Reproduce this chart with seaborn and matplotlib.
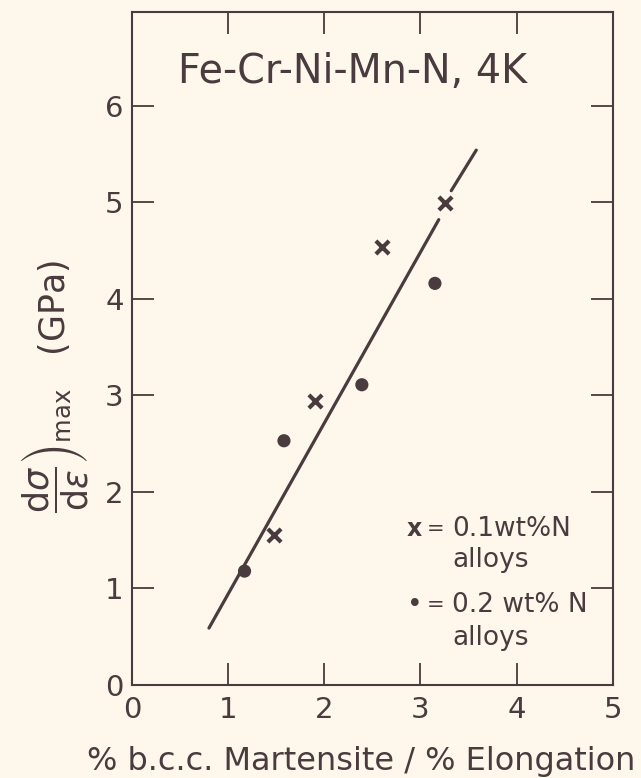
import matplotlib
matplotlib.use("Agg")
import matplotlib.pyplot as plt
import seaborn as sns
import pandas as pd

x_01N = [1.48, 1.90, 2.60, 3.26]
y_01N = [1.55, 2.94, 4.54, 4.99]
x_02N = [1.17, 1.58, 2.39, 3.15]
y_02N = [1.18, 2.53, 3.11, 4.16]

# fitted line, drawn in two pieces (gap around the last x point)
fit_x = [0.80, 3.19, 3.32, 3.58]
fit_y = [0.59, 4.82, 5.12, 5.54]
fit_seg = [0, 0, 1, 1]

x_ticks = [0, 1, 2, 3, 4, 5]
y_ticks = [0, 1, 2, 3, 4, 5, 6]

INK = "#4a3b3e"
PAPER = "#fdf7ec"

sns.set_theme(style="ticks")
plt.rcParams["font.family"] = ["DejaVu Sans"]

pts = pd.DataFrame({
    "x": x_01N + x_02N,
    "y": y_01N + y_02N,
    "alloy": ["0.1"] * len(x_01N) + ["0.2"] * len(x_02N),
})
fit = pd.DataFrame({"x": fit_x, "y": fit_y, "seg": fit_seg})

fig = plt.figure(figsize=(6.41, 7.78), dpi=100, facecolor=PAPER)
ax = fig.add_axes([0.206, 0.1195, 0.75, 0.865])
ax.set_facecolor(PAPER)

sns.lineplot(data=fit, x="x", y="y", units="seg", estimator=None,
             color=INK, linewidth=2.3, ax=ax, legend=False)
sns.scatterplot(data=pts[pts.alloy == "0.1"], x="x", y="y", marker="x",
                s=90, linewidth=3.0, color=INK, ax=ax, legend=False, zorder=3)
sns.scatterplot(data=pts[pts.alloy == "0.2"], x="x", y="y", marker="o",
                s=90, edgecolor="none", color=INK, ax=ax, legend=False, zorder=3)

ax.set_xlim(0, 5)
ax.set_ylim(0, 6.97)
ax.set_xticks(x_ticks)
ax.set_yticks(y_ticks)
ax.set_xticklabels(["0", "1", "2", "3", "4", "5"])
ax.set_yticklabels(["0", "1", "2", "3", "4", "5", "6"])
ax.tick_params(axis="both", direction="in", length=16, width=1.3, color=INK,
               labelcolor=INK, labelsize=21, top=True, right=True)
ax.tick_params(axis="x", pad=8)
ax.tick_params(axis="y", pad=6)
for sp in ax.spines.values():
    sp.set_visible(True)
    sp.set_color(INK)
    sp.set_linewidth(1.5)

ax.set_xlabel("% b.c.c. Martensite / % Elongation", fontsize=23, color=INK)
ax.xaxis.set_label_coords(0.476, -0.09)
ax.set_ylabel(r"$\left.\dfrac{\mathrm{d}\sigma}{\mathrm{d}\epsilon}\right)_{\rm max}$   (GPa)",
              fontsize=25, color=INK)
ax.yaxis.set_label_coords(-0.088, 0.444)

ax.text(0.48, 6.35, "Fe-Cr-Ni-Mn-N, 4K", fontsize=28.5, color=INK, va="center")

# legend written as text, same way as on the original drawing
ax.text(2.86, 1.62, "x", fontsize=17, color=INK, va="center", fontweight="bold")
ax.text(3.07, 1.62, "=", fontsize=15, color=INK, va="center")
ax.text(3.33, 1.62, "0.1wt%N", fontsize=19, color=INK, va="center")
ax.text(3.33, 1.30, "alloys", fontsize=19, color=INK, va="center")
ax.text(2.86, 0.83, "•", fontsize=19, color=INK, va="center")
ax.text(3.07, 0.83, "=", fontsize=15, color=INK, va="center")
ax.text(3.33, 0.83, "0.2 wt% N", fontsize=19, color=INK, va="center")
ax.text(3.33, 0.49, "alloys", fontsize=19, color=INK, va="center")

fig.savefig("out.png", dpi=100, facecolor=PAPER)
